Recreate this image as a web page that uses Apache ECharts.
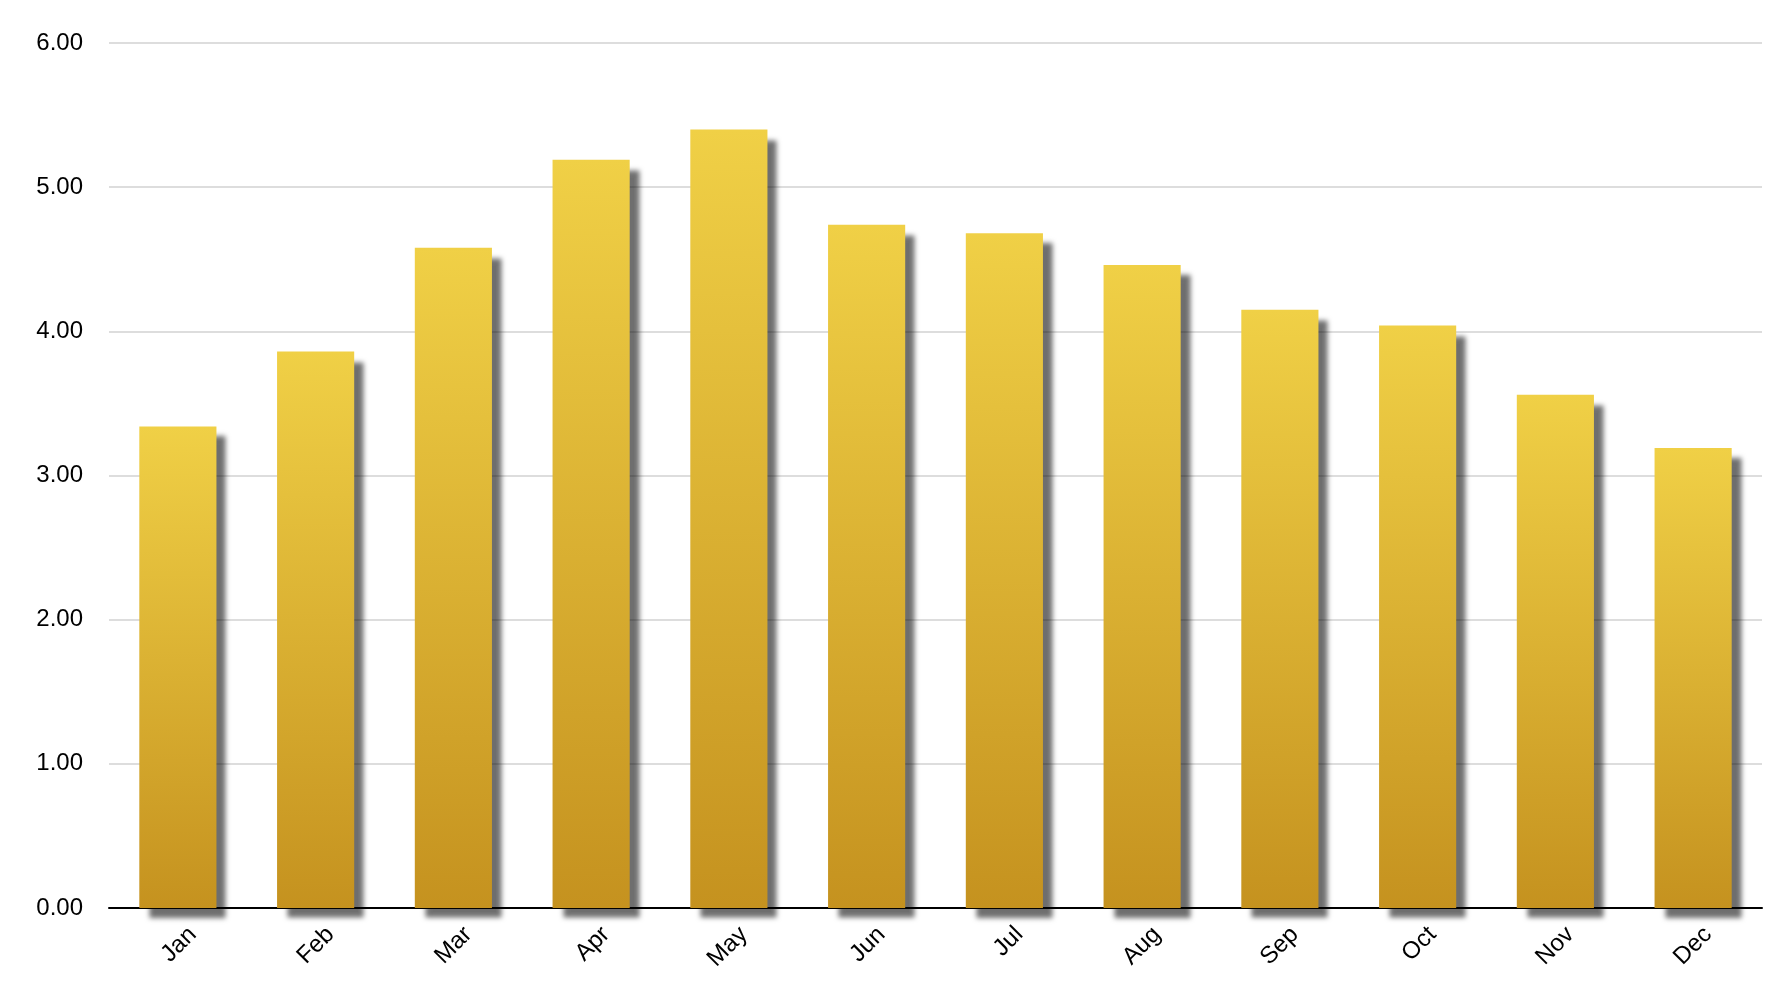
<!DOCTYPE html>
<html>
<head>
<meta charset="utf-8">
<script src="https://cdn.jsdelivr.net/npm/echarts@6/dist/echarts.min.js"></script>
<style>
html,body{margin:0;padding:0;background:#fff;}
#chart{width:1786px;height:990px;}
</style>
</head>
<body>
<div id="chart"></div>
<script>
const months = ['Jan','Feb','Mar','Apr','May','Jun','Jul','Aug','Sep','Oct','Nov','Dec'];
const values = [3.34, 3.86, 4.58, 5.19, 5.40, 4.74, 4.68, 4.46, 4.15, 4.04, 3.56, 3.19];
const yTicks = [0, 1, 2, 3, 4, 5, 6];

const chart = echarts.init(document.getElementById('chart'), null, {renderer: 'canvas'});
chart.setOption({
  animation: false,
  backgroundColor: '#ffffff',
  textStyle: {fontFamily: 'Liberation Sans, Arial, sans-serif'},
  grid: {left: 109, right: 24, top: 43, bottom: 82, containLabel: false},
  xAxis: {
    type: 'category',
    data: months,
    axisLine: {show: true, lineStyle: {color: '#000', width: 2}},
    axisTick: {show: false},
    axisLabel: {
      rotate: 45,
      interval: 0,
      margin: 8,
      verticalAlign: 'top',
      padding: [9, 0, 0, 0],
      color: '#000',
      fontSize: 24,
      fontFamily: 'Liberation Sans, Arial, sans-serif'
    },
    splitLine: {show: false}
  },
  yAxis: {
    type: 'value',
    min: yTicks[0],
    max: yTicks[yTicks.length - 1],
    interval: 1,
    axisLine: {show: false},
    axisTick: {show: false},
    axisLabel: {
      margin: 26,
      color: '#000',
      fontSize: 24,
      fontFamily: 'Liberation Sans, Arial, sans-serif',
      formatter: v => v.toFixed(2)
    },
    splitLine: {show: true, lineStyle: {color: '#d2d2d2', width: 1.5}}
  },
  series: [{
    type: 'bar',
    data: values,
    barCategoryGap: '44%',
    itemStyle: {
      color: new echarts.graphic.LinearGradient(0, 0, 0, 1, [
        {offset: 0, color: '#f0d046'},
        {offset: 1, color: '#c5921f'}
      ]),
      shadowColor: 'rgba(0,0,0,0.57)',
      shadowBlur: 5,
      shadowOffsetX: 10,
      shadowOffsetY: 10
    }
  }]
});
</script>
</body>
</html>
